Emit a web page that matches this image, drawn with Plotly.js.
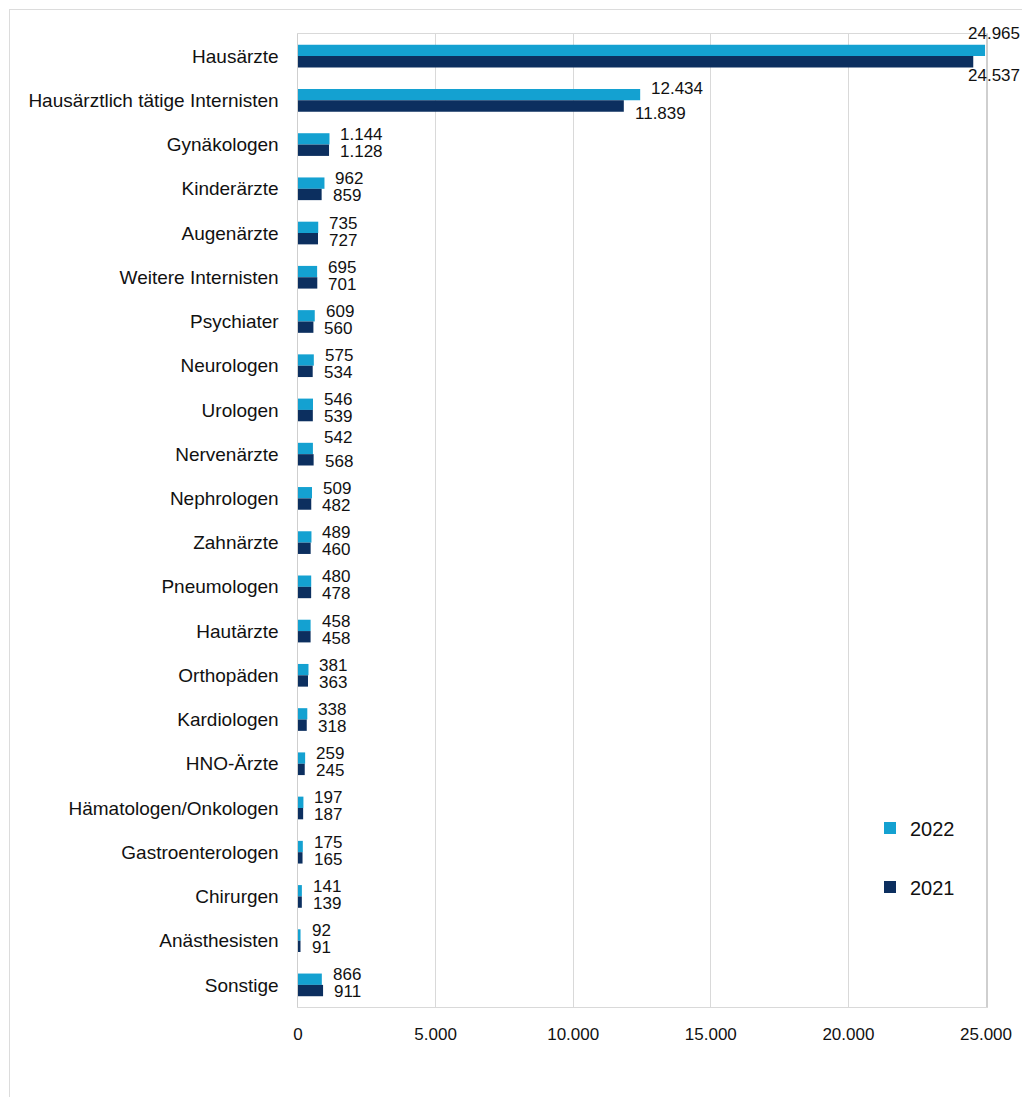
<!DOCTYPE html>
<html>
<head>
<meta charset="utf-8">
<script src="https://cdn.plot.ly/plotly-3.0.1.min.js"></script>
<style>
  html, body { margin: 0; padding: 0; background: #ffffff; overflow: hidden; }
  #chart { width: 1022px; height: 1097px; }
  #frame { position: absolute; left: 9px; top: 9px; width: 1200px; height: 1300px;
           border: 1.5px solid #dcdcdc; pointer-events: none; box-sizing: border-box; }
</style>
</head>
<body>
<div id="chart"></div>
<div id="frame"></div>
<script>
const categories = ['Hausärzte', 'Hausärztlich tätige Internisten', 'Gynäkologen', 'Kinderärzte',
  'Augenärzte', 'Weitere Internisten', 'Psychiater', 'Neurologen', 'Urologen', 'Nervenärzte',
  'Nephrologen', 'Zahnärzte', 'Pneumologen', 'Hautärzte', 'Orthopäden', 'Kardiologen',
  'HNO-Ärzte', 'Hämatologen/Onkologen', 'Gastroenterologen', 'Chirurgen', 'Anästhesisten', 'Sonstige'];
const series2022 = [24965, 12434, 1144, 962, 735, 695, 609, 575, 546, 542, 509, 489, 480, 458, 381, 338, 259, 197, 175, 141, 92, 866];
const series2021 = [24537, 11839, 1128, 859, 727, 701, 560, 534, 539, 568, 482, 460, 478, 458, 363, 318, 245, 187, 165, 139, 91, 911];
const seriesNames = ['2022', '2021'];
const xTicks = [0, 5000, 10000, 15000, 20000, 25000];

const colors = ['#14a1d1', '#0c2f5f'];
const FONT = 'Liberation Sans, Arial, sans-serif';
const xMax = 25000;

function fmt(v) {
  return String(v).replace(/\B(?=(\d{3})+(?!\d))/g, '.');
}

const traces = [series2022, series2021].map((vals, i) => ({
  type: 'bar',
  orientation: 'h',
  name: seriesNames[i],
  y: categories,
  x: vals,
  marker: { color: colors[i] },
  legend: i === 0 ? 'legend' : 'legend2',
  hoverinfo: 'x+y'
}));

// label nudges (styling only; positive = up)
const nudge = {
  'Hausärzte': [23, -19],
  'Hausärztlich tätige Internisten': [12, -13],
  'Nervenärzte': [17, -7]
};

const annotations = [];
[series2022, series2021].forEach((vals, i) => {
  vals.forEach((v, k) => {
    const cat = categories[k];
    let yshift = i === 0 ? 10 : -7;
    let xshift = 9;
    let x = v;
    if (nudge[cat]) yshift = nudge[cat][i];
    if (v > 0.9 * xMax) {
      // keep label inside the chart area
      x = xMax;
      xshift = -20;
    }
    annotations.push({
      x: x, y: cat, xref: 'x', yref: 'y',
      text: fmt(v), showarrow: false,
      xanchor: 'left', yanchor: 'middle',
      xshift: xshift, yshift: yshift,
      font: { family: FONT, size: 17, color: '#111111' }
    });
  });
});

const layout = {
  width: 1022, height: 1097,
  margin: { l: 298, r: 36, t: 34, b: 90 },
  paper_bgcolor: '#ffffff', plot_bgcolor: '#ffffff',
  separators: ',.',
  barmode: 'group',
  bargap: 0.487,
  bargroupgap: 0,
  showlegend: true,
  font: { family: FONT, size: 18, color: '#111111' },
  xaxis: {
    range: [0, xMax],
    tickvals: xTicks,
    ticktext: xTicks.map(fmt),
    showgrid: true, gridcolor: '#d9d9d9', gridwidth: 1,
    zeroline: false,
    showline: true, linecolor: '#d9d9d9', linewidth: 1, mirror: true,
    ticks: '', ticklabelstandoff: 12,
    tickfont: { family: FONT, size: 17, color: '#111111' },
    fixedrange: true
  },
  yaxis: {
    type: 'category',
    range: [categories.length - 0.5, -0.5],
    autorange: false,
    showgrid: false, zeroline: false,
    showline: true, linecolor: '#cfcfcf', linewidth: 1.5, mirror: true,
    ticks: '', ticklabelstandoff: 14,
    tickfont: { family: FONT, size: 19, color: '#111111' },
    fixedrange: true
  },
  legend: {
    x: (870 - 298) / 688, xanchor: 'left',
    y: 1 - (828 - 34) / 973, yanchor: 'middle',
    bgcolor: 'rgba(0,0,0,0)', borderwidth: 0,
    font: { family: FONT, size: 20, color: '#111111' },
    itemwidth: 30
  },
  legend2: {
    x: (870 - 298) / 688, xanchor: 'left',
    y: 1 - (887 - 34) / 973, yanchor: 'middle',
    bgcolor: 'rgba(0,0,0,0)', borderwidth: 0,
    font: { family: FONT, size: 20, color: '#111111' },
    itemwidth: 30
  },
  annotations: annotations
};

Plotly.newPlot('chart', traces, layout, { displayModeBar: false, staticPlot: true });
</script>
</body>
</html>
